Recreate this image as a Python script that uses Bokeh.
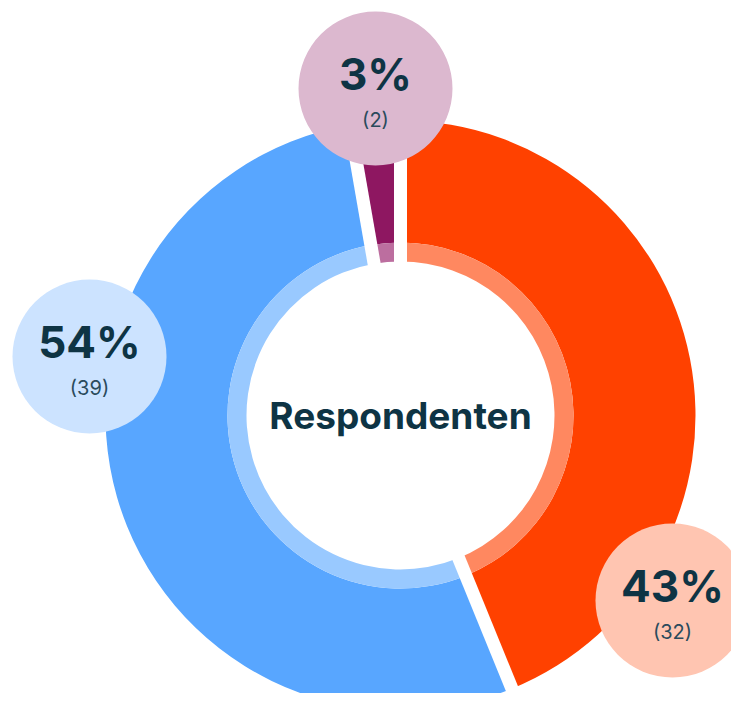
import math
from bokeh.plotting import figure
from bokeh.models import Range1d, ColumnDataSource
from bokeh.core.properties import value
from bokeh.embed import file_html
from bokeh.resources import INLINE

# ---- data ----
categories = ["Rood", "Blauw", "Paars"]
counts = [32, 39, 2]
percents = [43, 54, 3]
center_label = "Respondenten"

# ---- styles ----
main_colors = ["#FF4100", "#58A6FF", "#8E1761"]
ring_colors = ["#FF8860", "#99C9FF", "#BC6E9F"]
bubble_colors = ["#FFC5B1", "#CCE3FF", "#DCB8CF"]
text_color = "#0E3444"
count_color = "#2A4B5C"

# layout (pixel-like data coords; y up)
W, H = 731, 693
CX, CY = 400, 709 - 415
R_OUT, R_MID, R_IN = 295, 173, 154
GAP = 13
# bubble positions (x, y in image coords), radius
bubble_pos = [(672, 600), (89, 356), (375, 88)]
BUB_R = 77

p = figure(width=W, height=H, output_backend="svg", toolbar_location=None,
           x_range=Range1d(0, W), y_range=Range1d(709 - H, 709),
           min_border=0, outline_line_color=None)
p.axis.visible = False
p.grid.visible = False
p.background_fill_color = "white"
p.border_fill_color = "white"

total = sum(counts)
starts, ends = [], []
acc = 0.0
for c in counts:
    a0 = acc / total * 2 * math.pi
    acc += c
    a1 = acc / total * 2 * math.pi
    starts.append(math.pi / 2 - a0)
    ends.append(math.pi / 2 - a1)

src = ColumnDataSource(dict(x=[CX] * 3, y=[CY] * 3, start=starts, end=ends,
                            main=main_colors, ring=ring_colors))
p.annular_wedge(x="x", y="y", inner_radius=R_MID, outer_radius=R_OUT,
                start_angle="start", end_angle="end", direction="clock",
                fill_color="main", line_color=None, source=src)
p.annular_wedge(x="x", y="y", inner_radius=R_IN, outer_radius=R_MID,
                start_angle="start", end_angle="end", direction="clock",
                fill_color="ring", line_color=None, source=src)

# white gaps between slices
gx0, gy0, gx1, gy1 = [], [], [], []
for a in starts:
    gx0.append(CX + (R_IN - 5) * math.cos(a))
    gy0.append(CY + (R_IN - 5) * math.sin(a))
    gx1.append(CX + (R_OUT + 5) * math.cos(a))
    gy1.append(CY + (R_OUT + 5) * math.sin(a))
p.segment(x0=gx0, y0=gy0, x1=gx1, y1=gy1, line_color="white", line_width=GAP)

# center label
p.text(x=[CX], y=[CY], text=[center_label], text_font=value("Inter"),
       text_font_style="bold", text_font_size="37px", text_color=text_color,
       text_align="center", text_baseline="middle")

# bubbles
bx = [b[0] for b in bubble_pos]
by = [709 - b[1] for b in bubble_pos]
p.circle(x=bx, y=by, radius=BUB_R, fill_color=bubble_colors, line_color=None)
p.text(x=bx, y=[v + 15 for v in by], text=[f"{v}%" for v in percents],
       text_font=value("Inter"), text_font_style="bold", text_font_size="44px",
       text_color=text_color, text_align="center", text_baseline="middle")
p.text(x=bx, y=[v - 31 for v in by], text=[f"({c})" for c in counts],
       text_font=value("Inter"), text_font_size="20px",
       text_color=count_color, text_align="center", text_baseline="middle")

open("out.html", "w").write(file_html(p, INLINE))
